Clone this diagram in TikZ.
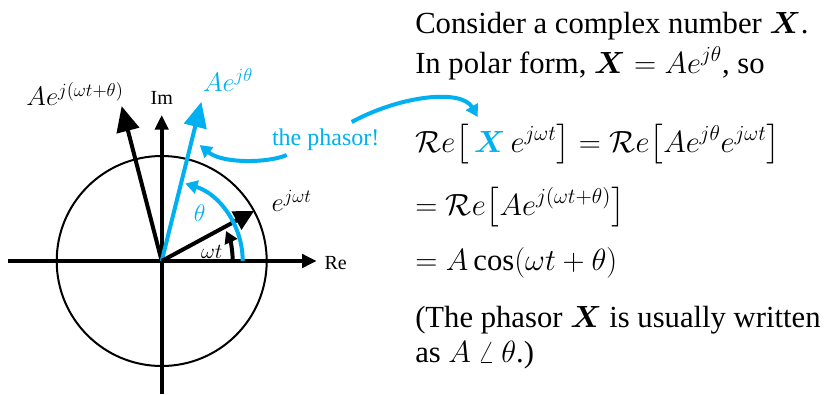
\documentclass[tikz,border=0pt]{standalone}
\usepackage{fix-cm}
\usepackage{amsmath}
\usepackage{fontspec}
\setmainfont{Liberation Serif}
\usetikzlibrary{arrows.meta}
\definecolor{phblue}{HTML}{00B0F0}

\begin{document}
\begin{tikzpicture}[x=0.75pt, y=0.75pt,
  axis/.style={line width=3pt, -{Triangle[length=11pt,width=10pt]}},
  vec/.style={line width=3pt, -{Triangle[length=19pt,width=17pt]}},
  ang/.style={line width=3pt, -{Triangle[length=9pt,width=10pt]}},
  lbl/.style={inner sep=0pt, font=\fontsize{15}{18}\selectfont},
  mlbl/.style={inner sep=0pt, font=\fontsize{20}{24}\selectfont},
  txt/.style={anchor=base west, inner sep=0pt, font=\fontsize{23}{27}\selectfont}]
  \useasboundingbox (-161.7,-133) rectangle (668.3,261);
  % Unit circle
  \coordinate (o) at (0,0);
  \draw[line width=1.5pt] (o) circle[radius=105];
  % Axes
  \coordinate (reL) at (-153.5,0);
  \coordinate (reR) at (155,0);
  \coordinate (imB) at (0,-133);
  \coordinate (imT) at (0,146);
  \draw[axis] (reL) -- (reR);
  \draw[axis] (imB) -- (imT);
  \node[lbl] (re) at (174,-2) {Re};
  \node[lbl] (im) at (0,163) {Im};
  % Vectors
  \coordinate (ejwt) at (28.4:105);
  \coordinate (aejt) at (76:164);
  \coordinate (aesum) at (104.5:160);
  \draw[vec] (o) -- (aesum);
  \draw[vec, phblue] (o) -- (aejt);
  \draw[line width=3pt, -{Triangle[length=15pt,width=15pt]}] (o) -- (ejwt);
  % Angles
  \draw[ang] (71,0) arc[start angle=0, end angle=25, radius=71];
  \draw[ang, phblue] (81,0) arc[start angle=0, end angle=73, radius=81];
  \node[mlbl, font=\fontsize{16}{18}\selectfont] (wt) at (50,9) {$\omega t$};
  \node[mlbl, phblue, font=\fontsize{18}{20}\selectfont] (th) at (38,48) {$\theta$};
  % Labels
  \node[mlbl] (lsum) at (-86.7,167) {$Ae^{j(\omega t+\theta)}$};
  \node[mlbl, phblue] (lphs) at (66.3,181) {$Ae^{j\theta}$};
  \node[mlbl] (lejwt) at (130,60) {$e^{j\omega t}$};
  \node[lbl, phblue, font=\fontsize{18}{20}\selectfont] (phasor) at (164,121) {the phasor!};
  % Pointers
  \coordinate (p1) at (125,106);
  \coordinate (p2) at (38,116);
  \draw[ang, phblue] (p1) .. controls (107,98) and (61,97) .. (p2);
  \coordinate (q1) at (190,139);
  \coordinate (q2) at (316,144);
  \draw[ang, phblue] (q1) .. controls (240,166) and (300,172) .. (q2);
  % Text
  \node[txt] (l1) at (253.3,228) {Consider a complex number $\boldsymbol{X}$.};
  \node[txt] (l2) at (253.3,188) {In polar form, $\boldsymbol{X} = Ae^{j\theta}$, so};
  \node[txt] (l3) at (253.3,109) {$\mathcal{R}e\big[\,{\color{phblue}\boldsymbol{X}}\,e^{j\omega t}\big] = \mathcal{R}e\big[Ae^{j\theta}e^{j\omega t}\big]$};
  \node[txt] (l4) at (253.3,46) {$= \mathcal{R}e\big[Ae^{j(\omega t+\theta)}\big]$};
  \node[txt] (l5) at (253.3,-9) {$= A\cos(\omega t+\theta)$};
  \node[txt] (l6) at (253.3,-66) {(The phasor $\boldsymbol{X}$ is usually written};
  \node[txt] (l7) at (253.3,-101) {as $A\mathbin{\angle}\theta$.)};
\end{tikzpicture}
\end{document}
